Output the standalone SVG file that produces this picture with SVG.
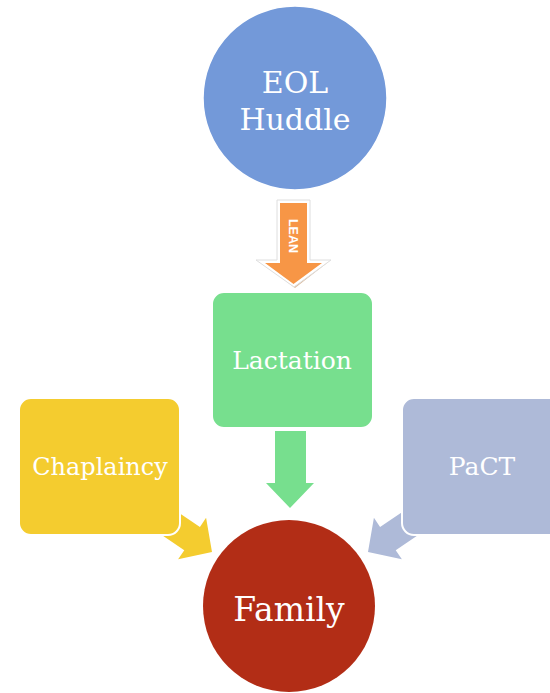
<svg xmlns="http://www.w3.org/2000/svg" width="550" height="693" viewBox="0 0 550 693">
<style>
.lbl{font-family:"DejaVu Serif","Liberation Serif",serif;fill:#fff;text-anchor:middle}
.box{stroke:#fff;stroke-width:2}
</style>
<defs>
<polygon id="darr" points="-72,-14 -24,-14 -24,-25 0,0 -24,25 -24,14 -72,14"/>
</defs>
<rect width="550" height="693" fill="#fff"/>
<g id="connectors">
  <use href="#darr" transform="translate(212,552) rotate(34)" fill="#F4CC2F"/>
  <use href="#darr" transform="translate(368,552) rotate(146)" fill="#AEBAD8"/>
  <g id="lean-arrow">
    <polygon points="280,204 309,204 309,263 327,263 295,288 262,263 280,263" fill="#dcbc9f"/>
    <polygon points="277,200 310,200 310,260 331,260 294,287 256,260 277,260" fill="#fff" stroke="#dedede" stroke-width="1"/>
    <polygon points="280,203 307,203 307,263 322,263 293.5,284 265,263 280,263" fill="#F79646"/>
    <text x="0" y="0" transform="translate(289,236) rotate(90)" font-family="'Liberation Sans',Arial,sans-serif" font-weight="bold" font-size="12.5" fill="#fff" text-anchor="middle">LEAN</text>
  </g>
  <polygon id="green-arrow" points="275,431 306,431 306,483 314,483 290,508 266,483 275,483" fill="#77DF8E"/>
</g>
<g id="eol">
  <circle cx="295" cy="98" r="92" fill="#7399D9" stroke="#fff" stroke-width="1.5"/>
  <text class="lbl" x="295" y="93" font-size="30">EOL</text>
  <text class="lbl" x="295" y="130" font-size="30">Huddle</text>
</g>
<g id="lactation">
  <rect class="box" x="212" y="292" width="161" height="136" rx="12" fill="#77DF8E"/>
  <text class="lbl" x="292" y="369" font-size="25">Lactation</text>
</g>
<g id="chaplaincy">
  <rect class="box" x="19" y="398" width="161" height="137" rx="12" fill="#F4CC2F"/>
  <text class="lbl" x="100" y="475" font-size="24">Chaplaincy</text>
</g>
<g id="pact">
  <rect class="box" x="402" y="398" width="161" height="137" rx="12" fill="#AEBAD8"/>
  <text class="lbl" x="482" y="475" font-size="25">PaCT</text>
</g>
<g id="family">
  <circle cx="289" cy="606" r="86" fill="#B22D16"/>
  <text class="lbl" x="289" y="621" font-size="33">Family</text>
</g>
</svg>
